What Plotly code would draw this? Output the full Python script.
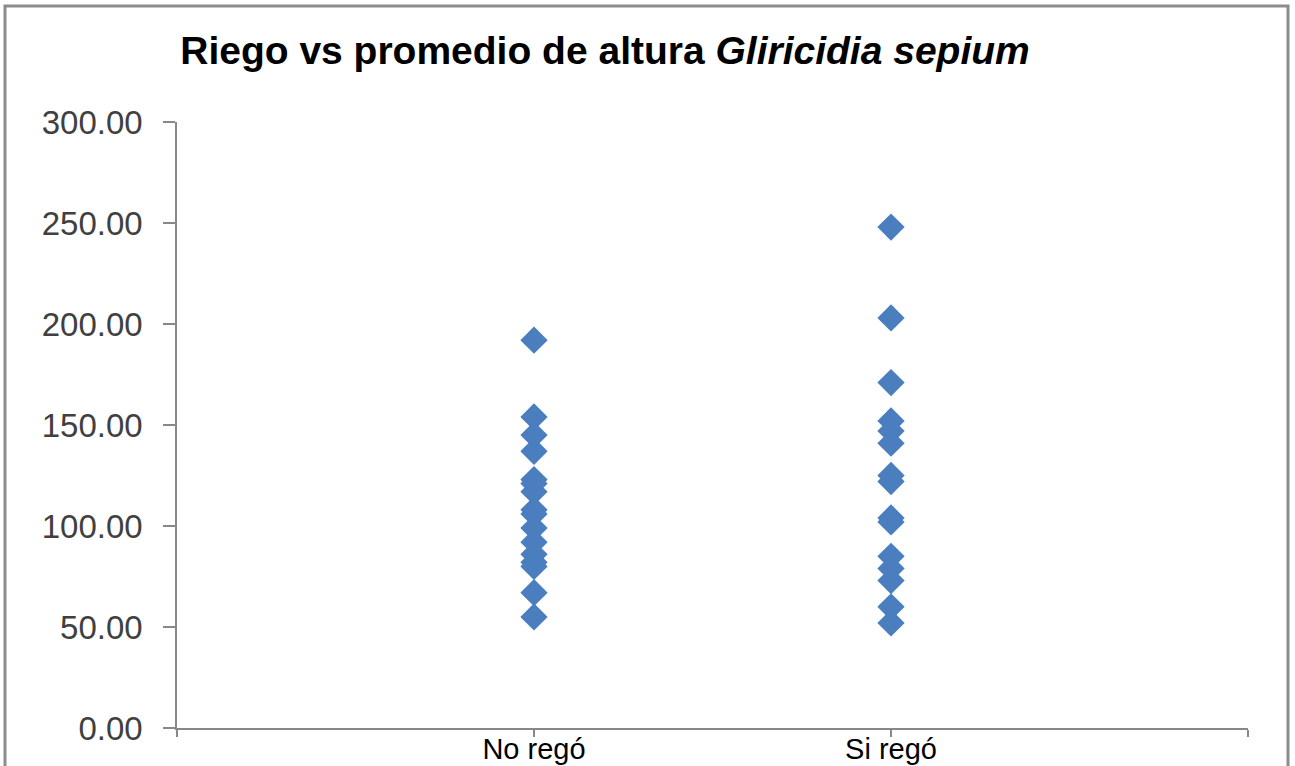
import plotly.graph_objects as go

# Irrigation groups and average heights (cm) of Gliricidia sepium
categories = ["No regó", "Si regó"]
no_rego = [192, 154, 145, 137, 123, 121, 117, 108, 106, 99, 92, 86, 82, 80, 67, 55]
si_rego = [248, 203, 171, 152, 147, 141, 125, 122, 104, 102, 85, 79, 73, 60, 52]
y_ticks = [0, 50, 100, 150, 200, 250, 300]

# category positions on a numeric axis (1, 2) with empty slots at 0 and 3
x_vals = [1] * len(no_rego) + [2] * len(si_rego)
y_vals = no_rego + si_rego

fig = go.Figure()
fig.add_trace(go.Scatter(
    x=x_vals, y=y_vals, mode="markers",
    marker=dict(symbol="diamond", size=21, color="#4A7EBE", line=dict(width=0)),
    showlegend=False, hoverinfo="y",
))

axis_color = "#888888"
fig.update_layout(
    width=1295, height=766,
    paper_bgcolor="white", plot_bgcolor="white",
    margin=dict(l=177, r=47, t=122, b=38),
    title=dict(
        text="<b>Riego vs promedio de altura <i>Gliricidia sepium</i></b>",
        x=(180 + 1030) / 2 / 1295, xanchor="center",
        y=1 - 50 / 766, yanchor="middle",
        font=dict(family="Liberation Sans, Arial, sans-serif", size=39, color="#000000"),
    ),
    xaxis=dict(
        range=[0, 3], tickmode="array", tickvals=[0, 1, 2, 3],
        ticktext=["", categories[0], categories[1], ""],
        showgrid=False, zeroline=False, showline=True, automargin=False,
        linecolor=axis_color, linewidth=1.5,
        ticks="outside", ticklen=7, tickcolor=axis_color, tickwidth=1.5,
        ticklabelstandoff=-13,
        tickfont=dict(family="Liberation Sans, sans-serif", size=29, color="#000000"),
    ),
    yaxis=dict(
        range=[0, 300], tickmode="array", tickvals=y_ticks,
        ticktext=[f"{v:.2f}" for v in y_ticks],
        showgrid=False, zeroline=False, showline=True, automargin=False,
        linecolor=axis_color, linewidth=1.5,
        ticks="outside", ticklen=12, tickcolor=axis_color, tickwidth=1.5,
        ticklabelstandoff=14,
        tickfont=dict(family="Liberation Sans, Arial, sans-serif", size=33, color="#404040"),
    ),
    shapes=[
        # chart-area frame
        dict(type="rect", xref="paper", yref="paper",
             x0=(5 - 177) / 1071, x1=(1288 - 177) / 1071,
             y0=-0.2, y1=(728 - 6) / 606,
             line=dict(color="#8C8C8C", width=3), fillcolor="rgba(0,0,0,0)",
             layer="below"),
    ],
)

fig.write_html("out.html")
